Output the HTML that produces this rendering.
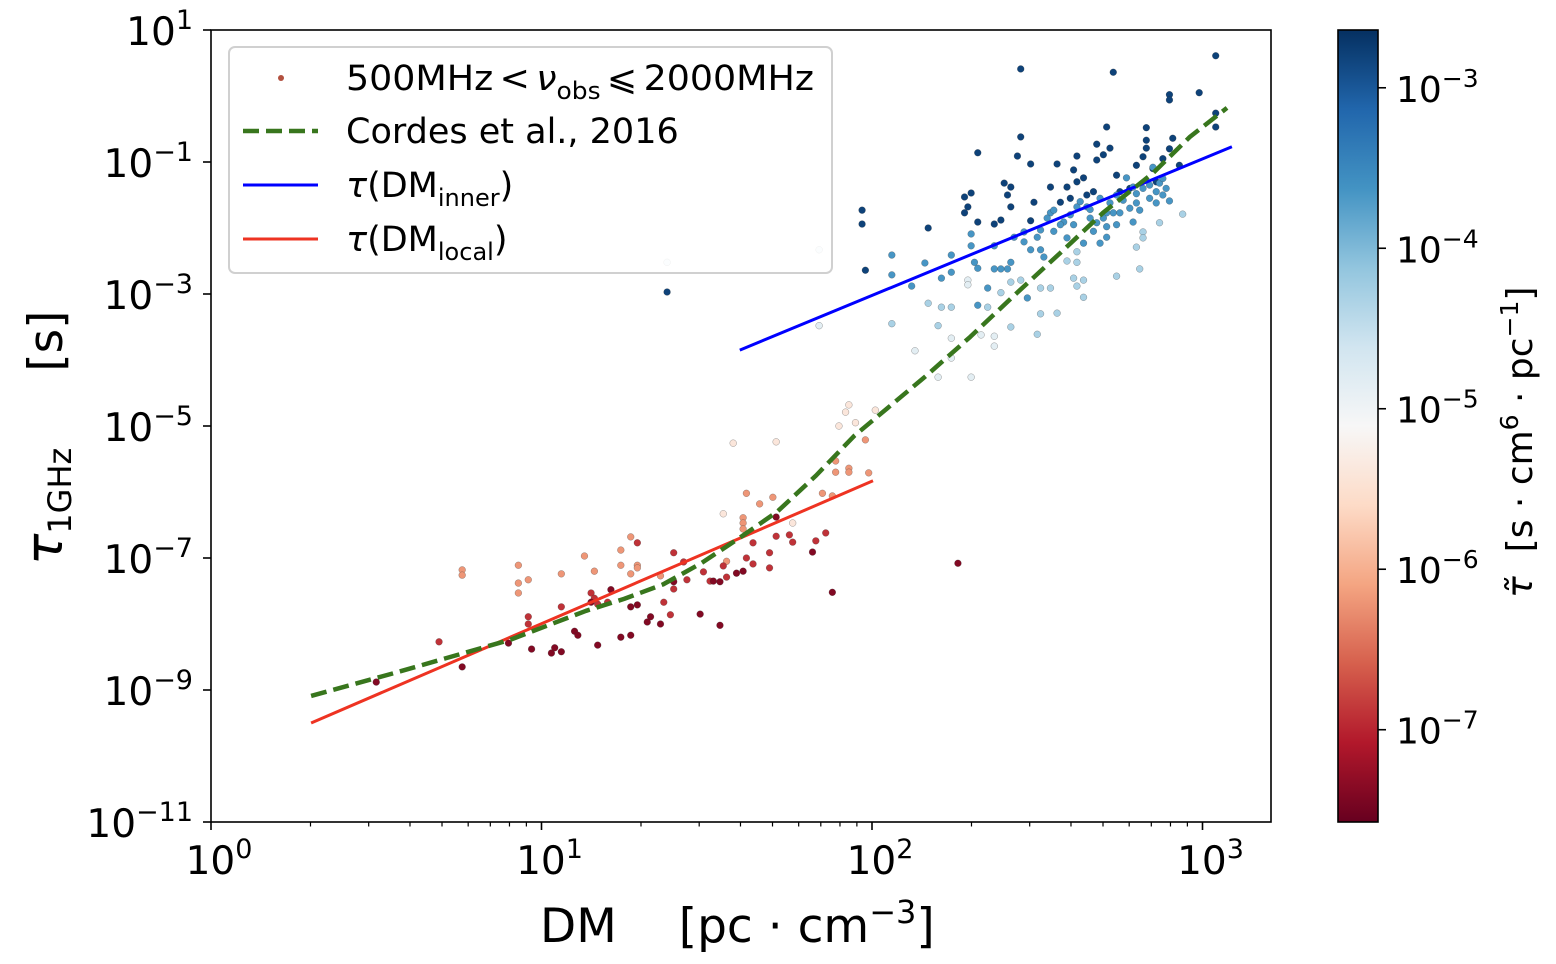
<!DOCTYPE html>
<html><head><meta charset="utf-8"><style>
html,body{margin:0;padding:0;background:#fff;}
svg{display:block;font-family:"DejaVu Sans","Liberation Sans",sans-serif;}
</style></head><body>
<svg id="chart" width="1556" height="964" viewBox="0 0 1556 964" xmlns="http://www.w3.org/2000/svg">
<defs>
<linearGradient id="rdbu" x1="0" y1="1" x2="0" y2="0">
<stop offset="0" stop-color="#67001f"/><stop offset="0.1" stop-color="#b2182b"/><stop offset="0.2" stop-color="#d6604d"/><stop offset="0.3" stop-color="#f4a582"/><stop offset="0.4" stop-color="#fddbc7"/><stop offset="0.5" stop-color="#f7f7f7"/><stop offset="0.6" stop-color="#d1e5f0"/><stop offset="0.7" stop-color="#92c5de"/><stop offset="0.8" stop-color="#4393c3"/><stop offset="0.9" stop-color="#2166ac"/><stop offset="1" stop-color="#053061"/>
</linearGradient>
<clipPath id="plotclip"><rect x="211" y="30" width="1060" height="792"/></clipPath>
</defs>
<g id="marks" clip-path="url(#plotclip)"></g>
<rect x="211" y="30" width="1060" height="792" fill="none" stroke="#000" stroke-width="1.6"/>
<g id="axes"></g>
<g>
<rect x="229" y="47" width="603" height="226" rx="6" fill="#fff" fill-opacity="0.85" stroke="#d0d0d0" stroke-width="2"/>
<circle cx="281" cy="78" r="3" fill="#b2503f"/>
<text x="346" y="90" font-size="35" textLength="468" lengthAdjust="spacingAndGlyphs">500MHz<tspan dx="6">&lt;</tspan><tspan dx="6" font-style="italic">ν</tspan><tspan font-size="24" dy="9">obs</tspan><tspan dy="-9" dx="6">⩽</tspan><tspan dx="6">2000MHz</tspan></text>
<line x1="243" y1="131" x2="318" y2="131" stroke="#38761d" stroke-width="4.5" stroke-dasharray="16,7"/>
<text x="346" y="143" font-size="35">Cordes et al., 2016</text>
<line x1="243" y1="185" x2="318" y2="185" stroke="#0000ff" stroke-width="3"/>
<text x="346" y="197" font-size="35"><tspan font-style="italic">τ</tspan>(DM<tspan font-size="24" dy="9">inner</tspan><tspan dy="-9">)</tspan></text>
<line x1="243" y1="239" x2="318" y2="239" stroke="#ee3322" stroke-width="3"/>
<text x="346" y="251" font-size="35"><tspan font-style="italic">τ</tspan>(DM<tspan font-size="24" dy="9">local</tspan><tspan dy="-9">)</tspan></text>
</g>
<text x="540" y="942" font-size="47">DM<tspan dx="62">[pc · cm</tspan><tspan font-size="32" dy="-19">−3</tspan><tspan dy="19">]</tspan></text>
<text transform="translate(62,565) rotate(-90)" font-size="47"><tspan font-style="italic" font-size="52">τ</tspan><tspan font-size="32" dy="9">1GHz</tspan><tspan dy="-9" dx="76">[s]</tspan></text>
<rect x="1338" y="30" width="40" height="792" fill="url(#rdbu)" stroke="#000" stroke-width="1.6"/>
<g id="cbaxis"></g>
<text transform="translate(1532,598) rotate(-90)" font-size="36"><tspan font-style="italic">τ̃</tspan><tspan dx="24">[s · cm</tspan><tspan font-size="25" dy="-14">6</tspan><tspan dy="14"> · pc</tspan><tspan font-size="25" dy="-14">−1</tspan><tspan dy="14">]</tspan></text>
</svg>
<script>
// ---- data (log10 units) ----
const xTicks = [0, 1, 2, 3];
const yTicks = [1, -1, -3, -5, -7, -9, -11];
const cbTicks = [-3, -4, -5, -6, -7];
const cordesLogDM = [0.303, 0.557, 0.905, 1.135, 1.250, 1.368, 1.483, 1.598, 1.713, 1.831, 1.946, 2.166, 2.297, 2.439, 2.569, 2.699, 2.850, 2.962, 3.074];
const cordesLogTau = [-9.09, -8.74, -8.24, -7.80, -7.62, -7.40, -7.08, -6.70, -6.30, -5.75, -5.15, -4.23, -3.65, -2.98, -2.38, -1.77, -1.17, -0.62, -0.18];
const innerLogDM = [1.60, 3.089];
const innerLogTau = [-3.85, -0.77];
const localLogDM = [0.303, 2.003];
const localLogTau = [-9.5, -5.83];
const logDM = [
2.45,2.73,3.04,2.90,2.90,2.99,2.45,2.32,2.44,2.48,2.56,2.62,2.71,2.68,2.72,2.83,2.83,2.83,2.91,2.90,3.04,3.04,1.97,1.97,1.98,2.17,2.28,2.28,2.30,2.29,2.40,2.42,2.41,2.42,2.32,2.37,2.39,2.48,2.54,2.59,2.61,2.64,2.68,2.70,2.82,2.49,2.57,1.38,2.65,2.75,2.78,2.60,2.85,2.86,2.62,2.67,2.74,2.80,2.88,2.93,
2.06,2.06,2.16,2.12,2.24,2.24,2.21,2.30,2.30,2.31,2.32,2.37,2.37,2.39,2.41,2.42,2.43,2.46,2.46,2.48,2.50,2.51,2.51,2.52,2.54,2.55,2.58,2.61,2.59,2.62,2.65,2.66,2.68,2.71,2.73,2.71,2.75,2.77,2.79,2.80,2.81,2.85,2.86,2.87,2.84,2.86,2.90,2.79,2.64,2.69,2.71,2.47,2.32,2.35,
2.60,2.63,2.66,2.69,2.72,2.74,2.76,2.78,2.80,2.82,2.84,2.88,2.89,2.70,2.57,2.53,2.55,2.67,2.74,2.88,
2.94,2.87,2.82,2.82,2.80,2.81,2.74,2.59,2.62,2.62,2.61,2.64,2.62,2.64,2.56,2.51,2.50,2.54,2.51,2.42,2.39,2.42,2.45,2.35,2.21,2.24,2.17,2.06,2.20,
2.29,2.29,2.13,2.24,2.24,2.33,2.37,2.37,2.20,2.30,1.84,1.84,1.38,
1.58,1.71,1.90,1.93,1.92,1.95,2.01,1.55,1.76,
0.76,0.76,0.93,0.93,0.96,0.93,1.06,1.13,1.16,1.24,1.24,1.27,1.27,1.29,1.29,1.36,1.62,1.66,1.70,1.89,1.89,1.93,1.93,1.98,1.99,1.85,1.88,1.61,1.61,1.61,1.56,
0.69,0.96,0.96,1.06,1.15,1.16,1.17,1.20,1.29,1.40,1.40,1.39,1.49,1.44,1.55,1.56,1.64,1.71,1.69,1.69,1.62,1.64,1.75,1.76,1.86,1.83,1.43,1.37,1.51,
0.76,0.90,0.97,1.03,1.04,1.06,1.10,1.11,1.17,1.24,1.27,1.27,1.29,1.32,1.33,1.36,1.40,1.48,1.54,1.54,1.59,1.61,1.71,1.82,1.88,1.21,1.15,0.50,1.52,2.26];
const logTau = [
0.41,0.36,0.61,0.02,-0.06,0.05,-0.62,-0.86,-0.91,-1.03,-1.03,-0.91,-0.47,-0.73,-0.79,-0.48,-0.67,-0.79,-0.64,-0.80,-0.26,-0.47,-1.73,-1.94,-2.64,-2.00,-1.53,-1.77,-1.47,-1.68,-1.32,-1.38,-1.50,-1.68,-1.91,-1.94,-1.88,-1.89,-1.38,-1.38,-1.12,-1.24,-0.97,-0.89,-0.92,-1.61,-1.61,-2.97,-1.50,-1.45,-1.40,-1.55,-1.10,-1.30,-1.30,-1.45,-1.20,-1.05,-0.95,-1.05,
-2.41,-2.71,-2.53,-2.88,-2.41,-2.67,-2.76,-2.09,-2.27,-2.52,-2.61,-2.27,-2.62,-2.62,-2.62,-2.52,-2.14,-2.06,-2.21,-2.33,-2.14,-2.03,-2.33,-2.44,-1.77,-1.73,-1.91,-1.95,-2.15,-1.68,-1.68,-1.85,-1.92,-1.98,-1.77,-1.77,-1.77,-1.24,-1.38,-1.62,-1.73,-1.08,-1.45,-1.32,-1.55,-1.62,-1.59,-1.91,-2.23,-2.23,-2.14,-3.06,-3.17,-2.91,
-1.80,-1.60,-1.72,-1.55,-1.62,-1.50,-1.58,-1.70,-1.48,-1.40,-1.35,-1.50,-1.40,-1.85,-1.95,-1.85,-2.05,-2.05,-1.95,-1.25,
-1.79,-1.92,-2.06,-2.15,-2.29,-2.62,-2.73,-2.50,-2.36,-2.52,-2.76,-2.79,-2.88,-3.05,-3.29,-3.30,-3.61,-2.91,-2.91,-3.50,-2.98,-2.82,-2.79,-3.20,-3.20,-3.20,-3.14,-3.45,-3.48,
-2.79,-2.86,-3.86,-3.67,-3.97,-3.62,-3.64,-3.79,-4.26,-4.26,-3.48,-2.33,-2.52,
-5.26,-5.24,-5.00,-4.68,-4.79,-4.95,-4.76,-6.33,-6.47,
-7.18,-7.26,-7.11,-7.38,-7.33,-7.53,-7.24,-6.97,-7.20,-6.88,-7.11,-6.68,-7.24,-7.11,-7.15,-7.27,-6.02,-6.18,-6.08,-5.53,-5.70,-5.64,-5.70,-5.21,-5.71,-6.02,-6.06,-6.39,-6.47,-6.56,-7.05,
-8.27,-7.89,-8.00,-7.74,-7.53,-7.61,-7.70,-7.67,-6.77,-6.92,-7.47,-7.86,-7.21,-7.33,-7.12,-7.29,-6.77,-6.67,-6.92,-7.15,-7.00,-7.09,-6.65,-6.76,-6.62,-6.74,-7.06,-7.67,-7.35,
-8.65,-8.29,-8.38,-8.44,-8.36,-8.42,-8.11,-8.17,-8.32,-8.20,-8.17,-7.74,-7.71,-7.97,-7.89,-8.00,-7.36,-7.85,-8.02,-7.36,-7.23,-7.20,-6.38,-6.91,-7.52,-7.48,-7.67,-8.88,-7.35,-7.08];
const groupColor = [-2.8, -3.65, -4.3, -4.85, -5.4, -6.2, -6.9, -7.4];
const groupSize = [60, 74, 29, 13, 9, 31, 29, 30];

// ---- scales ----
const X0 = 211, XD = 330.5, Y0 = 30, YD = 66;
function sx(l){ return X0 + l * XD; }
function sy(l){ return Y0 + (1 - l) * YD; }
const CB_TOP = -2.64, CB_BOT = -7.575;
function scb(l){ return 30 + (CB_TOP - l) / (CB_TOP - CB_BOT) * 792; }
const stops = ["#67001f","#b2182b","#d6604d","#f4a582","#fddbc7","#f7f7f7","#d1e5f0","#92c5de","#4393c3","#2166ac","#053061"];
function hex(h){ return [1,3,5].map(i=>parseInt(h.substr(i,2),16)); }
function cmap(l){
  let t = (l - CB_BOT) / (CB_TOP - CB_BOT); t = Math.max(0, Math.min(1, t));
  const p = t * 10, i = Math.min(9, Math.floor(p)), f = p - i;
  const a = hex(stops[i]), b = hex(stops[i+1]);
  return 'rgb(' + a.map((v,k)=>Math.round(v + (b[k]-v)*f)).join(',') + ')';
}
const NS = 'http://www.w3.org/2000/svg';
function mk(tag, attrs, parent){ const e = document.createElementNS(NS, tag); for (const k in attrs) e.setAttribute(k, attrs[k]); parent.appendChild(e); return e; }

const marks = document.getElementById('marks');
let gi = 0, cnt = 0;
for (let i = 0; i < logDM.length; i++) {
  while (gi < groupSize.length - 1 && cnt >= groupSize[gi]) { gi++; cnt = 0; }
  cnt++;
  const c = mk('circle', {cx: sx(logDM[i]), cy: sy(logTau[i]), r: 3.4, fill: cmap(groupColor[gi]), stroke: '#333', 'stroke-width': 0.4, 'stroke-opacity': 0.6}, marks);
  
  
}
function line(xs, ys, attrs, name){
  const d = xs.map((v,i)=>(i?'L':'M') + sx(v).toFixed(1) + ',' + sy(ys[i]).toFixed(1)).join(' ');
  const p = mk('path', Object.assign({d: d, fill: 'none', 'stroke-linejoin': 'round'}, attrs), marks);
  
  
}
line(innerLogDM, innerLogTau, {stroke: '#0000ff', 'stroke-width': 3}, 'inner-fit-line');
line(localLogDM, localLogTau, {stroke: '#ee3322', 'stroke-width': 3}, 'local-fit-line');
line(cordesLogDM, cordesLogTau, {stroke: '#38761d', 'stroke-width': 4.5, 'stroke-dasharray': '16,7'}, 'cordes-curve');

const axes = document.getElementById('axes');
function tickLabel(x, y, exp, anchor, fs, parent, name){
  const t = mk('text', {x: x, y: y, 'font-size': fs, 'text-anchor': anchor}, parent);
  
  
  const e = exp < 0 ? '−' + (-exp) : '' + exp;
  t.innerHTML = '10<tspan font-size="' + Math.round(fs*0.7) + '" dy="-' + Math.round(fs*0.42) + '">' + e + '</tspan>';
  return t;
}
xTicks.forEach(v => {
  const x = sx(v);
  mk('line', {x1: x, y1: 822, x2: x, y2: 830, stroke: '#000', 'stroke-width': 1.6}, axes);
  tickLabel(x + 8, 874, v, 'middle', 39, axes, 'x-tick-label');
});
for (let d = 0; d < 4; d++) for (let m = 2; m <= 9; m++) {
  const l = d + Math.log10(m);
  if (sx(l) > 1271) continue;
  mk('line', {x1: sx(l), y1: 822, x2: sx(l), y2: 826.5, stroke: '#000', 'stroke-width': 1.2}, axes);
}
yTicks.forEach(v => {
  const y = sy(v);
  mk('line', {x1: 203, y1: y, x2: 211, y2: y, stroke: '#000', 'stroke-width': 1.6}, axes);
  tickLabel(193, y + 15, v, 'end', 39, axes, 'y-tick-label');
});
const cb = document.getElementById('cbaxis');
cbTicks.forEach(v => {
  const y = scb(v);
  mk('line', {x1: 1378, y1: y, x2: 1386, y2: y, stroke: '#000', 'stroke-width': 1.6}, cb);
  tickLabel(1396, y + 14, v, 'start', 36, cb, 'colorbar-tick-label');
});
</script>
</body></html>
